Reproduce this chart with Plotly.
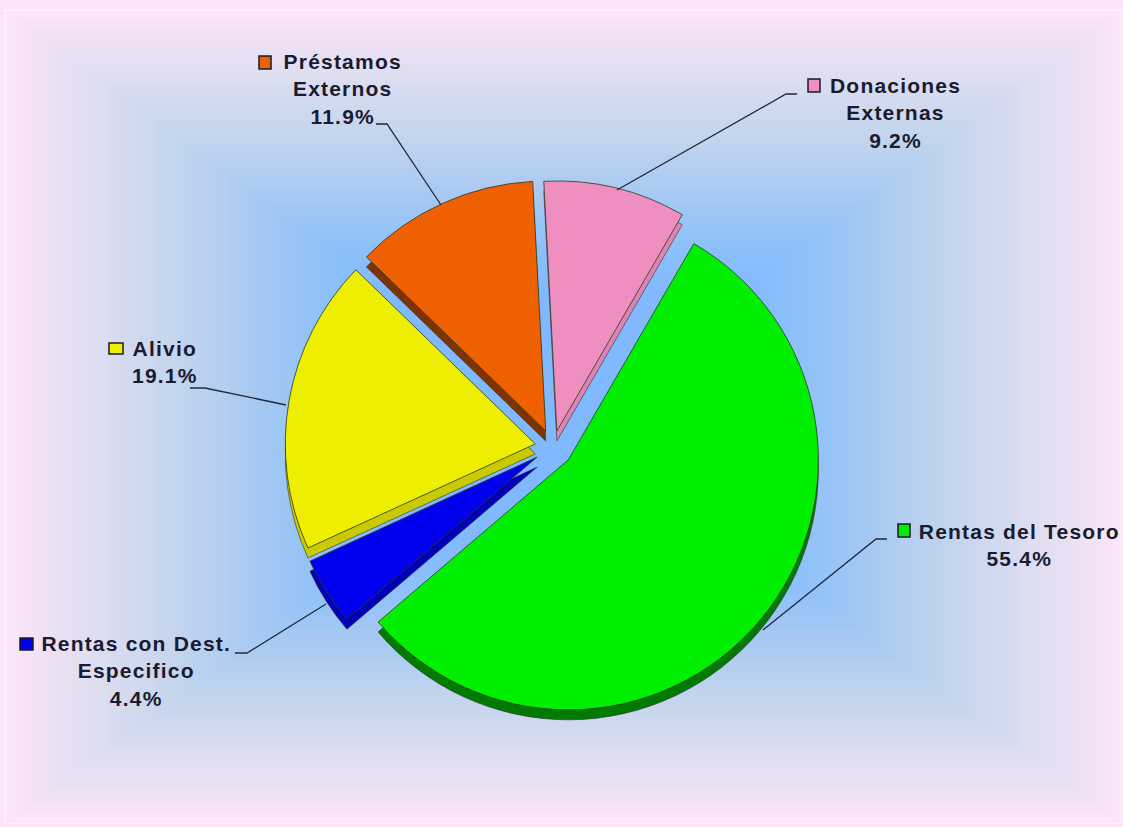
import plotly.graph_objects as go

categories = ["Donaciones Externas", "Rentas del Tesoro", "Rentas con Dest. Especifico", "Alivio", "Préstamos Externos"]
values = [9.2, 55.4, 4.4, 19.1, 11.9]
label_texts = ["Donaciones<br>Externas<br>9.2%", "Rentas del Tesoro<br>55.4%",
               "Rentas con Dest.<br>Especifico<br>4.4%", "Alivio<br>19.1%", "Préstamos<br>Externos<br>11.9%"]

W, H = 1123, 827
COLORS = ["#ee8fbf", "#00ee00", "#0000ee", "#eeee00", "#ee6000"]
DARK = ["#dc84b2", "#007a00", "#0000b8", "#caca00", "#7f3300"]
PULL = [0.066, 0.08, 0.075, 0.072, 0.07]
CX, CY, R = 553, 447, 250
HALF = R * (1 + max(PULL))

GRAD_T = [1.0, 0.97, 0.85, 0.70, 0.55, 0.42, 0.30]
GRAD_C = [(0xfc, 0xe8, 0xf9), (0xf6, 0xe3, 0xf6), (0xdf, 0xde, 0xf0), (0xc4, 0xd5, 0xed),
          (0xa6, 0xc9, 0xf2), (0x8d, 0xc0, 0xfa), (0x80, 0xb9, 0xff)]


def px(x):
    return x / W


def py(y):
    return 1 - y / H


def grad(t):
    if t <= GRAD_T[-1]:
        return "#%02x%02x%02x" % GRAD_C[-1]
    for k in range(len(GRAD_T) - 1):
        if GRAD_T[k + 1] <= t <= GRAD_T[k]:
            f = (GRAD_T[k] - t) / (GRAD_T[k] - GRAD_T[k + 1])
            return "#" + "".join(f"{round(a + (b - a) * f):02x}" for a, b in zip(GRAD_C[k], GRAD_C[k + 1]))


def domain(dx=0, dy=0):
    return dict(x=[px(CX + dx - HALF), px(CX + dx + HALF)],
                y=[py(CY + dy + HALF), py(CY + dy - HALF)])


shapes = [dict(type="rect", xref="paper", yref="paper", layer="below", x0=0, x1=1, y0=0, y1=1,
               fillcolor="#fde3f9", line_width=0),
          dict(type="rect", xref="paper", yref="paper", layer="below", x0=px(4), x1=1, y0=py(824), y1=py(9),
               fillcolor="#fff2fc", line_width=0)]
gx, gy, hw, hh = 564, 417, 559, 406
STEPS = 120
for i in range(STEPS + 1):
    t = 1 - i / STEPS * 0.72
    shapes.append(dict(type="rect", xref="paper", yref="paper", layer="below",
                       x0=px(gx - hw * t), x1=px(gx + hw * t), y0=py(gy + hh * t), y1=py(gy - hh * t),
                       fillcolor=grad(t), line_width=0))

keys = {0: (808, 79, 820, 92), 1: (898, 524, 910, 537), 2: (20, 638, 33, 650),
        3: (109, 343, 123, 354), 4: (259, 56, 271, 69)}
for i, (x0, y0, x1, y1) in keys.items():
    shapes.append(dict(type="rect", xref="paper", yref="paper", x0=px(x0), x1=px(x1), y0=py(y1), y1=py(y0),
                       fillcolor=COLORS[i], line=dict(color="#1a1a2a", width=1.5)))

leaders = [[(797, 94), (786, 94), (617, 190)],
           [(887, 539), (876, 539), (763, 630)],
           [(235, 653), (247, 653), (326, 604)],
           [(190, 388), (205, 388), (286, 405)],
           [(376, 124), (387, 124), (441, 205)]]
for pts in leaders:
    path = "M " + " L ".join(f"{px(x):.5f},{py(y):.5f}" for x, y in pts)
    shapes.append(dict(type="path", xref="paper", yref="paper", path=path,
                       line=dict(color="#20283a", width=1.3)))

positions = [(895, 113), (1019, 545), (136, 671), (165, 362), (342, 89)]
annotations = [dict(text=f"<b>{t}</b>", x=px(x), y=py(y), xref="paper", yref="paper", showarrow=False,
                    xanchor="center", yanchor="middle", align="center",
                    font=dict(family="Liberation Sans", size=21, color="#1a1a30"))
               for t, (x, y) in zip(label_texts, positions)]

fig = go.Figure()
fig.add_trace(go.Pie(labels=categories, values=values, sort=False, direction="clockwise", rotation=-3,
                     pull=PULL, domain=domain(0, 10), textinfo="none", hoverinfo="skip", showlegend=False,
                     marker=dict(colors=DARK, line=dict(color="#333333", width=0.6))))
fig.add_trace(go.Pie(labels=categories, values=values, sort=False, direction="clockwise", rotation=-3,
                     pull=PULL, domain=domain(), textinfo="none", showlegend=False,
                     marker=dict(colors=COLORS, line=dict(color="#2a3a20", width=0.8))))
fig.update_layout(width=W, height=H, margin=dict(l=0, r=0, t=0, b=0), paper_bgcolor="#fde3f9",
                  shapes=shapes, annotations=annotations, showlegend=False)
fig.write_html("out.html", config=dict(displayModeBar=False),
               post_script="document.body.style.margin='0';"
                           "var s=document.createElement('style');"
                           "s.textContent='.annotation-text{letter-spacing:1.2px}';"
                           "document.head.appendChild(s);")
